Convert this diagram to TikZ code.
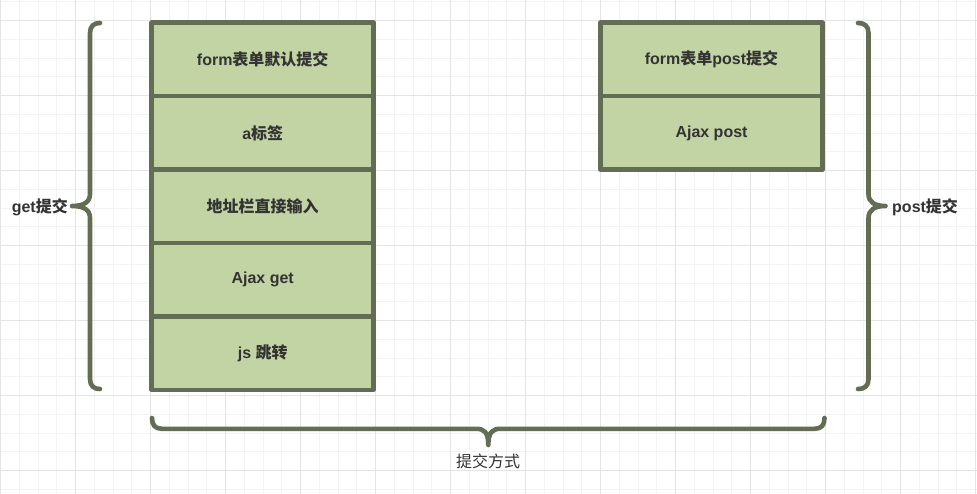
\documentclass[tikz,border=0pt]{standalone}
\usepackage{fontspec}
\setmainfont{Liberation Sans}
\newfontfamily\cjk{Noto Sans CJK SC}
\newcommand\zh[1]{{\cjk #1}}
\definecolor{boxfill}{RGB}{194,212,163}
\definecolor{boxline}{RGB}{98,109,84}
\definecolor{txt}{RGB}{51,51,51}
\definecolor{gridminor}{RGB}{243,243,243}
\definecolor{gridmajor}{RGB}{228,228,228}
\begin{document}
\begin{tikzpicture}[x=1pt,y=-1pt,
  cell/.style={draw=boxline, fill=boxfill, line width=4.6pt, line join=round,
    minimum width=222pt, minimum height=73.4pt, inner sep=0pt, outer sep=0pt,
    anchor=north west, font=\fontsize{16}{19}\selectfont\bfseries, text=txt},
  brace/.style={draw=boxline, line width=4.6pt, line cap=round, line join=round},
  lbl/.style={font=\fontsize{16}{19}\selectfont\bfseries, text=txt, inner sep=0pt},
  lblr/.style={font=\fontsize{16}{19}\selectfont, text=txt, inner sep=0pt}]
\fill[white] (0,0) rectangle (977,494);
\useasboundingbox (0,0) rectangle (977,494);
\begin{scope}
\clip (0,0) rectangle (977,494);
\foreach \i in {0,...,52} {
  \pgfmathsetmacro\xx{0.7+18.75*\i}
  \draw[gridminor, line width=1pt] (\xx,0) -- (\xx,494);
}
\foreach \j in {-1,...,25} {
  \pgfmathsetmacro\yy{20.7+18.75*\j}
  \draw[gridminor, line width=1pt] (0,\yy) -- (977,\yy);
}
\foreach \i in {0,...,13} {
  \pgfmathsetmacro\xx{0.7+75*\i}
  \draw[gridmajor, line width=1pt] (\xx,0) -- (\xx,494);
}
\foreach \j in {0,...,6} {
  \pgfmathsetmacro\yy{20.7+75*\j}
  \draw[gridmajor, line width=1pt] (0,\yy) -- (977,\yy);
}
\end{scope}

% left stack
\node[cell] (l1) at (151.7,22.8) {form\zh{表单默认提交}};
\node[cell] (l2) at (151.7,96.2) {a\zh{标签}};
\node[cell] (l3) at (151.7,169.6) {\zh{地址栏直接输入}};
\node[cell] (l4) at (151.7,243.0) {Ajax get};
\node[cell] (l5) at (151.7,316.4) {js \zh{跳转}};
% right stack
\node[cell] (r1) at (600.5,22.8) {form\zh{表单}post\zh{提交}};
\node[cell] (r2) at (600.5,96.2) {Ajax post};

% braces
\coordinate (lbt) at (100,23);
\coordinate (lbb) at (100,389);
\coordinate (lbtip) at (72,206);
\draw[brace] (lbt) .. controls (94,23) and (90,26) .. (90,33) -- (90,194)
  .. controls (90,202) and (84,206) .. (lbtip)
  .. controls (84,206) and (90,210) .. (90,218) -- (90,379)
  .. controls (90,386) and (94,389) .. (lbb);

\coordinate (rbt) at (858,23);
\coordinate (rbb) at (858,389);
\coordinate (rbtip) at (885.5,206);
\draw[brace] (rbt) .. controls (864.5,23) and (868.5,26) .. (868.5,33) -- (868.5,194)
  .. controls (868.5,202) and (874.5,206) .. (rbtip)
  .. controls (874.5,206) and (868.5,210) .. (868.5,218) -- (868.5,379)
  .. controls (868.5,386) and (864.5,389) .. (rbb);

\coordinate (bbl) at (152,418);
\coordinate (bbr) at (824.5,418);
\coordinate (bbtip) at (488.3,445);
\draw[brace] (bbl) .. controls (152,425) and (155,428.8) .. (162,428.8) -- (476,428.8)
  .. controls (484,428.8) and (488.3,432) .. (bbtip)
  .. controls (488.3,432) and (492.6,428.8) .. (500.6,428.8) -- (814.5,428.8)
  .. controls (821.5,428.8) and (824.5,425) .. (bbr);

% labels
\node[lbl, anchor=east] (getlbl) at (68,207) {get\zh{提交}};
\node[lbl, anchor=west] (postlbl) at (892,207) {post\zh{提交}};
\node[lblr] (waylbl) at (488,461) {\zh{提交方式}};
\end{tikzpicture}
\end{document}
